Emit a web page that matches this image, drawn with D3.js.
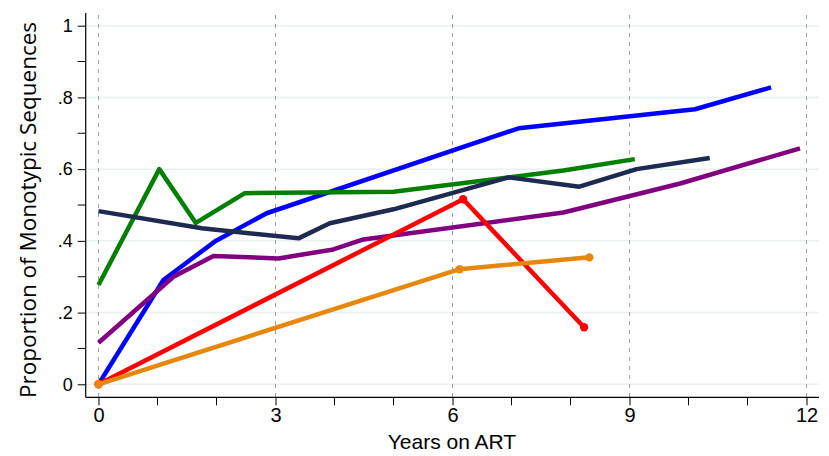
<!DOCTYPE html>
<html>
<head>
<meta charset="utf-8">
<script src="https://d3js.org/d3.v7.min.js"></script>
<style>
  body { margin: 0; background: #fff; }
  svg { display: block; }
</style>
</head>
<body>
<div id="chart"></div>
<script>
// tick labels
var xTicks = [0, 3, 6, 9, 12];
var xMinorTicks = [1, 2, 4, 5, 7, 8, 10, 11];
var yTicks = [0, 0.2, 0.4, 0.6, 0.8, 1];
var yTickLabels = ["0", ".2", ".4", ".6", ".8", "1"];
var yMinorTicks = [0.1, 0.3, 0.5, 0.7, 0.9];

// series (years on ART, proportion)
var blueYears = [0, 1.10, 1.97, 2.85, 7.12, 10.11, 11.40];
var blueVals = [0, 0.291, 0.398, 0.477, 0.714, 0.767, 0.828];

var greenYears = [0, 1.03, 1.65, 2.48, 5.0, 7.88, 9.09];
var greenVals = [0.277, 0.600, 0.450, 0.533, 0.537, 0.596, 0.628];

var navyYears = [0, 1.75, 3.39, 3.92, 5.0, 6.95, 8.15, 9.12, 10.36];
var navyVals = [0.483, 0.435, 0.407, 0.449, 0.488, 0.577, 0.551, 0.600, 0.631];

var purpleYears = [0, 1.27, 1.95, 3.05, 3.98, 4.49, 7.88, 9.86, 11.89];
var purpleVals = [0.116, 0.300, 0.358, 0.351, 0.376, 0.404, 0.479, 0.560, 0.658];

var redYears = [0, 6.18, 8.23];
var redVals = [0, 0.516, 0.159];

var orangeYears = [0, 6.12, 8.32];
var orangeVals = [0, 0.321, 0.354];

var W = 829, H = 456;

var svg = d3.select("#chart")
    .append("svg")
    .attr("width", W)
    .attr("height", H);

var x = d3.scaleLinear().domain([0, 12]).range([98.5, 806.5]);
var y = d3.scaleLinear().domain([0, 1]).range([384.3, 25.7]);

var axisX = 85.7, axisY = 397.3;

// horizontal grid
svg.append("g")
    .selectAll("line")
    .data(yTicks)
    .enter()
    .append("line")
    .attr("x1", axisX)
    .attr("x2", 819)
    .attr("y1", function (d) { return y(d); })
    .attr("y2", function (d) { return y(d); })
    .attr("stroke", "#e8f0f2")
    .attr("stroke-width", 1.5);

// vertical dashed lines
svg.append("g")
    .selectAll("line")
    .data(xTicks)
    .enter()
    .append("line")
    .attr("x1", function (d) { return x(d); })
    .attr("x2", function (d) { return x(d); })
    .attr("y1", 15)
    .attr("y2", axisY)
    .attr("stroke", "#a0a0a0")
    .attr("stroke-width", 1)
    .attr("stroke-dasharray", "4,5");

// Y axis
var yAxis = d3.axisLeft(y)
    .tickValues(yTicks)
    .tickSize(8)
    .tickPadding(5)
    .tickFormat(function (d, i) { return yTickLabels[i]; });
var gy = svg.append("g")
    .attr("transform", "translate(" + axisX + ",0)")
    .call(yAxis);
gy.select(".domain").remove();
gy.selectAll(".tick line").attr("stroke", "#000");
gy.selectAll(".tick text")
    .style("font-family", "Liberation Sans, Arial, sans-serif")
    .style("font-size", "18px")
    .attr("fill", "#000");

svg.append("g")
    .selectAll("line")
    .data(yMinorTicks)
    .enter()
    .append("line")
    .attr("x1", axisX - 8)
    .attr("x2", axisX)
    .attr("y1", function (d) { return y(d); })
    .attr("y2", function (d) { return y(d); })
    .attr("stroke", "#000");

svg.append("line")
    .attr("x1", axisX).attr("x2", axisX)
    .attr("y1", 13).attr("y2", axisY)
    .attr("stroke", "#000")
    .attr("stroke-width", 1.2);

// X axis
var xAxis = d3.axisBottom(x)
    .tickValues(xTicks)
    .tickSize(8)
    .tickPadding(3)
    .tickFormat(d3.format("d"));
var gx = svg.append("g")
    .attr("transform", "translate(0," + axisY + ")")
    .call(xAxis);
gx.select(".domain").remove();
gx.selectAll(".tick line").attr("stroke", "#000");
gx.selectAll(".tick text")
    .style("font-family", "Liberation Sans, Arial, sans-serif")
    .style("font-size", "20px")
    .attr("fill", "#000");

svg.append("g")
    .selectAll("line")
    .data(xMinorTicks)
    .enter()
    .append("line")
    .attr("x1", function (d) { return x(d); })
    .attr("x2", function (d) { return x(d); })
    .attr("y1", axisY)
    .attr("y2", axisY + 8)
    .attr("stroke", "#000");

svg.append("line")
    .attr("x1", axisX).attr("x2", 819)
    .attr("y1", axisY).attr("y2", axisY)
    .attr("stroke", "#000")
    .attr("stroke-width", 1.2);

// axis titles
svg.append("text")
    .attr("x", 452)
    .attr("y", 449)
    .attr("text-anchor", "middle")
    .style("font-family", "Liberation Sans, Arial, sans-serif")
    .style("font-size", "21px")
    .text("Years on ART");

svg.append("text")
    .attr("transform", "translate(36,210) rotate(-90)")
    .attr("text-anchor", "middle")
    .style("font-family", "Open Sans, sans-serif")
    .style("font-size", "22.5px")
    .text("Proportion of Monotypic Sequences");

// the lines
var series = [
    { name: "blue", color: "#0000ff", years: blueYears, vals: blueVals, dots: false },
    { name: "green", color: "#008000", years: greenYears, vals: greenVals, dots: false },
    { name: "navy", color: "#1c2b4f", years: navyYears, vals: navyVals, dots: false },
    { name: "purple", color: "#800080", years: purpleYears, vals: purpleVals, dots: false },
    { name: "red", color: "#ff0000", years: redYears, vals: redVals, dots: true },
    { name: "orange", color: "#e8870e", years: orangeYears, vals: orangeVals, dots: true }
];

var line = d3.line()
    .x(function (d) { return x(d[0]); })
    .y(function (d) { return y(d[1]); });

series.forEach(function (s) {
    var pts = s.years.map(function (t, i) { return [t, s.vals[i]]; });
    svg.append("path")
        .attr("d", line(pts))
        .attr("fill", "none")
        .attr("stroke", s.color)
        .attr("stroke-width", 4.5)
        .attr("stroke-linejoin", "round");
    if (s.dots) {
        svg.selectAll(".dot-" + s.name)
            .data(pts)
            .enter()
            .append("circle")
            .attr("class", "dot-" + s.name)
            .attr("cx", function (d) { return x(d[0]); })
            .attr("cy", function (d) { return y(d[1]); })
            .attr("r", 4.2)
            .attr("fill", s.color);
    }
});
</script>
</body>
</html>
